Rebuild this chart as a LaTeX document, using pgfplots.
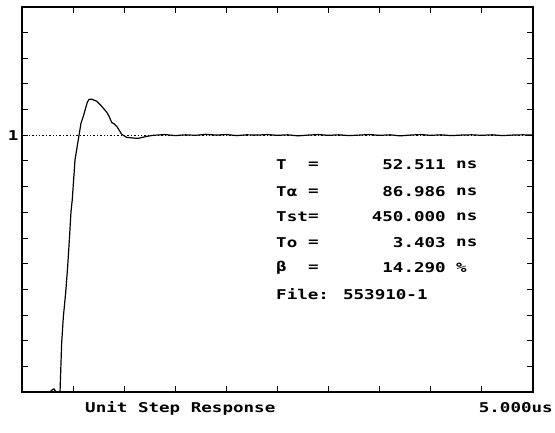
\documentclass[border=0pt]{standalone}
\usepackage{fontspec}
\usepackage{pgfplots}
\pgfplotsset{compat=1.18}
\newfontfamily\mono{DejaVu Sans Mono}[FakeStretch=1.3]
\newcommand{\tf}{\mono\bfseries\fontsize{13.5}{15}\selectfont}
\begin{document}
\begin{tikzpicture}[x=1pt,y=1pt]
\useasboundingbox (0,0) rectangle (555,432);
\begin{axis}[
  at={(22pt,40pt)}, anchor=south west,
  width=511pt, height=385pt, scale only axis,
  xmin=0, xmax=5, ymin=0, ymax=1.5,
  xtick={0.5,1,1.5,2,2.5,3,3.5,4,4.5},
  xticklabels={},
  ytick={0.1,0.2,0.3,0.4,0.5,0.6,0.7,0.8,0.9,1,1.1,1.2,1.3,1.4},
  yticklabels={,,,,,,,,,1,,,,},
  yticklabel style={font=\tf},
  tick align=inside,
  major tick length=6pt,
  tick style={black, line width=1pt},
  axis line style={line width=1.2pt},
  clip=false,
]
\addplot[black, line width=1.2pt, dash pattern=on 1.4pt off 2pt] coordinates {(0,1) (5,1)};
\addplot[black, line width=1.2pt] coordinates {
(0,0) (0.176,0) (0.274,0) (0.294,0.008) (0.313,0.012) (0.333,0) (0.372,0)
(0.388,0.19) (0.404,0.29) (0.428,0.39) (0.447,0.49) (0.463,0.59) (0.479,0.70)
(0.492,0.75) (0.519,0.906) (0.558,1.0) (0.577,1.047) (0.600,1.074) (0.639,1.129)
(0.656,1.14) (0.682,1.141) (0.705,1.137) (0.731,1.133) (0.780,1.113) (0.829,1.09)
(0.851,1.075) (0.878,1.05) (0.900,1.045) (0.927,1.035) (0.976,1.004) (1.024,0.992)
(1.076,0.990) (1.135,0.988) (1.220,0.996) (1.282,1.0)
(1.4,1.003) (1.5,0.999) (1.6,1.002) (1.7,1.0) (1.8,1.004) (1.9,1.001) (2.0,1.003)
(2.1,0.999) (2.2,1.002) (2.3,1.001) (2.4,1.003) (2.5,1.0) (2.6,1.002) (2.7,0.998)
(2.8,1.001) (2.9,1.003) (3.0,1.0) (3.1,1.002) (3.2,0.999) (3.3,1.001) (3.4,1.003)
(3.5,1.0) (3.6,1.002) (3.7,0.998) (3.8,1.001) (3.9,1.003) (4.0,1.0) (4.1,1.002)
(4.2,0.999) (4.3,1.001) (4.4,1.002) (4.5,1.0) (4.6,1.002) (4.7,0.999) (4.8,1.001)
(4.9,1.002) (5.0,1.001)
};
\end{axis}
\begin{scope}[every node/.style={font=\tf, inner sep=0pt}]
\node[anchor=west] at (276,267) {T};
\node[anchor=west] at (276,240) {Tα};
\node[anchor=west] at (276,215) {Tst};
\node[anchor=west] at (276,189) {To};
\node[anchor=west] at (276,164) {β};
\foreach \yy in {267,240,215,189,164} {\node[anchor=west] at (308,\yy) {=};}
\node[anchor=east] at (446,267) {52.511};
\node[anchor=east] at (446,240) {86.986};
\node[anchor=east] at (446,215) {450.000};
\node[anchor=east] at (446,189) {3.403};
\node[anchor=east] at (446,164) {14.290};
\node[anchor=west] at (456,267) {ns};
\node[anchor=west] at (456,240) {ns};
\node[anchor=west] at (456,215) {ns};
\node[anchor=west] at (456,189) {ns};
\node[anchor=west] at (456,164) {\%};
\node[anchor=west] at (276,138) {File: 553910-1};
\node[anchor=west] at (85,24) {Unit Step Response};
\node[anchor=east] at (553,24) {5.000us};
\end{scope}
\end{tikzpicture}
\end{document}
